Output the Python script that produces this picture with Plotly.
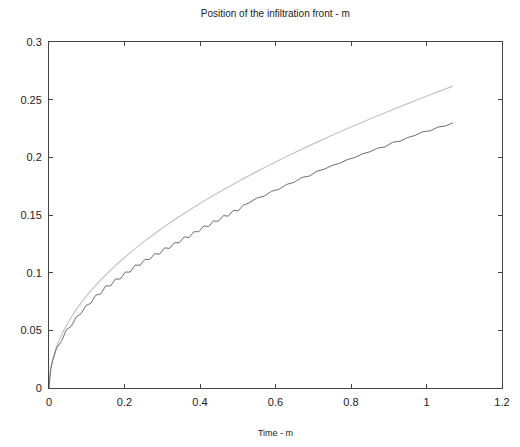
import plotly.graph_objects as go

# Analytical (light) curve
t_light = [0, 0.002, 0.005, 0.01, 0.02, 0.03, 0.04, 0.06, 0.08, 0.1, 0.12, 0.15, 0.2, 0.25,
           0.3, 0.35, 0.4, 0.45, 0.5, 0.55, 0.6, 0.65, 0.7, 0.75, 0.8, 0.85, 0.9, 0.95,
           1.0, 1.03, 1.07]
y_light = [0, 0.0113, 0.0179, 0.0253, 0.0358, 0.0438, 0.0506, 0.0620, 0.0716, 0.0800,
           0.0876, 0.0980, 0.1131, 0.1265, 0.1385, 0.1497, 0.1600, 0.1697, 0.1789, 0.1876,
           0.1960, 0.2040, 0.2117, 0.2191, 0.2263, 0.2333, 0.2400, 0.2466, 0.2530, 0.2568,
           0.2617]

# Numerical (dark, wavy) curve
t_dark = [0, 0.002, 0.005, 0.01, 0.015,
          0.020, 0.033, 0.046, 0.059, 0.072, 0.085, 0.098, 0.111, 0.124, 0.137,
          0.150, 0.163, 0.176, 0.189, 0.202, 0.215, 0.228, 0.241, 0.254, 0.267,
          0.280, 0.293, 0.306, 0.319, 0.332, 0.345, 0.358, 0.371, 0.384, 0.397,
          0.410, 0.423, 0.436, 0.449, 0.462, 0.475, 0.488, 0.501, 0.514,
          0.53, 0.55, 0.57, 0.59, 0.61, 0.63, 0.65, 0.67, 0.69, 0.71, 0.73, 0.75,
          0.77, 0.79, 0.81, 0.83, 0.85, 0.87, 0.89, 0.91, 0.93, 0.95, 0.97, 0.99,
          1.01, 1.03, 1.05, 1.07]
y_dark = [0, 0.011, 0.017, 0.024, 0.029,
          0.0345, 0.0405, 0.0505, 0.0535, 0.0615, 0.0645, 0.0715, 0.0735, 0.0805, 0.0815,
          0.0885, 0.0885, 0.0945, 0.0945, 0.1005, 0.1005, 0.1065, 0.1065, 0.1115, 0.1115,
          0.1165, 0.1160, 0.1215, 0.1210, 0.1260, 0.1260, 0.1310, 0.1305, 0.1355, 0.1355,
          0.1405, 0.1400, 0.1450, 0.1445, 0.1495, 0.1490, 0.1540, 0.1535, 0.1585,
          0.1605, 0.1646, 0.1664, 0.1706, 0.1724, 0.1766, 0.1784, 0.1826, 0.1838, 0.1880,
          0.1898, 0.1930, 0.1948, 0.1980, 0.1998, 0.2030, 0.2048, 0.2080, 0.2090, 0.2130,
          0.2140, 0.2172, 0.2190, 0.2222, 0.2230, 0.2262, 0.2272, 0.2300]

x_ticks = [0, 0.2, 0.4, 0.6, 0.8, 1, 1.2]
x_tick_labels = ["0", "0.2", "0.4", "0.6", "0.8", "1", "1.2"]
y_ticks = [0, 0.05, 0.1, 0.15, 0.2, 0.25, 0.3]
y_tick_labels = ["0", "0.05", "0.1", "0.15", "0.2", "0.25", "0.3"]

fig = go.Figure()
fig.add_trace(go.Scatter(x=t_light, y=y_light, mode="lines", line_shape="spline",
                         line=dict(color="#c4c4c4", width=1.2), showlegend=False))
fig.add_trace(go.Scatter(x=t_dark, y=y_dark, mode="lines",
                         line=dict(color="#6e6e6e", width=1), showlegend=False))

font_family = "Liberation Sans, Arial, sans-serif"
# page body has an 8px default margin, so the figure is sized/offset to compensate
fig.update_layout(
    width=512, height=439,
    margin=dict(l=41, r=18, t=34, b=59, autoexpand=False),
    paper_bgcolor="white", plot_bgcolor="white",
    font=dict(family=font_family, color="#222222"),
    title=dict(text="Position of the infiltration front - m", x=0.522, xanchor="center",
               y=0.988, yanchor="middle", automargin=False,
               font=dict(size=10, color="#222222")),
    xaxis=dict(range=[0, 1.2], tickvals=x_ticks, ticktext=x_tick_labels, automargin=False,
               showgrid=False, zeroline=False, showline=True, linecolor="#444444",
               linewidth=1, mirror="ticks", ticks="inside", ticklen=4, tickcolor="#444444",
               tickfont=dict(size=11, color="#222222"), ticklabelstandoff=4,
               title=dict(text="Time - m", font=dict(size=9, color="#222222"), standoff=22)),
    yaxis=dict(range=[0, 0.3], tickvals=y_ticks, ticktext=y_tick_labels, automargin=False,
               showgrid=False, zeroline=False, showline=True, linecolor="#444444",
               linewidth=1, mirror="ticks", ticks="inside", ticklen=4, tickcolor="#444444",
               tickfont=dict(size=11, color="#222222"), ticklabelstandoff=4),
)

fig.write_html("out.html")
